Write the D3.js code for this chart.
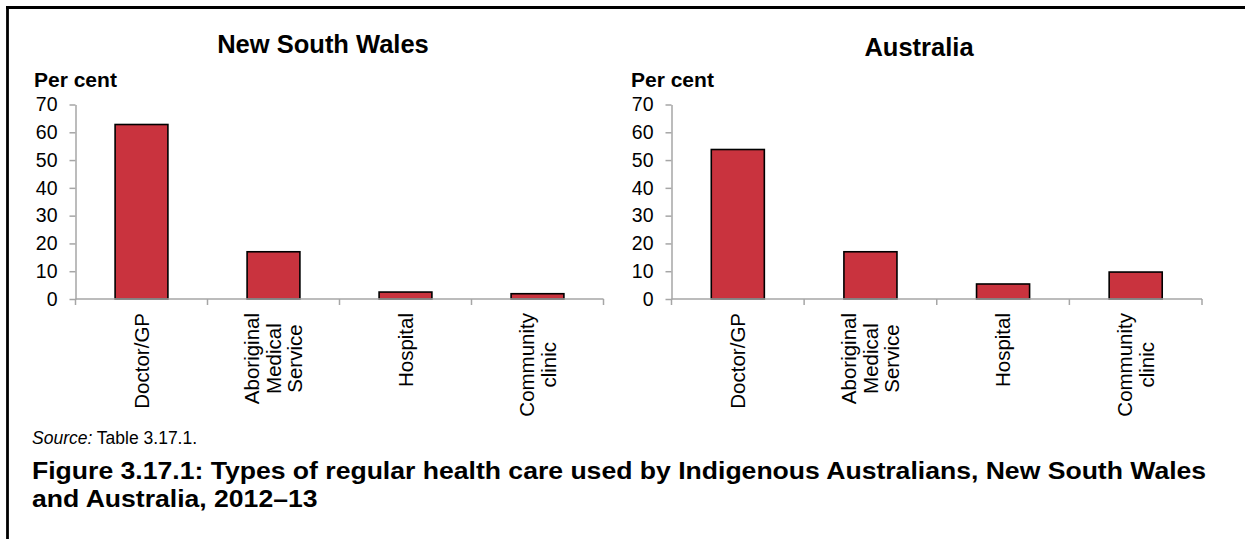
<!DOCTYPE html>
<html>
<head>
<meta charset="utf-8">
<script src="https://cdn.jsdelivr.net/npm/d3@7"></script>
<style>
  html, body { margin: 0; padding: 0; background: #fff; }
  svg { display: block; font-family: "Liberation Sans", Arial, Helvetica, sans-serif; }
</style>
</head>
<body>
<svg id="chart" width="1245" height="539"></svg>
<script>
// ---------- data ----------
const categories = ["Doctor/GP", "Aboriginal Medical Service", "Hospital", "Community clinic"];
const categoryLines = [["Doctor/GP"], ["Aboriginal", "Medical", "Service"], ["Hospital"], ["Community", "clinic"]];
const nswValues = [62.8, 17.0, 2.5, 1.9];
const ausValues = [53.8, 17.0, 5.4, 9.7];
const yTicks = [0, 10, 20, 30, 40, 50, 60, 70];
const panelTitles = ["New South Wales", "Australia"];
const yAxisTitle = "Per cent";
const sourceLabel = "Source:";
const sourceText = " Table 3.17.1.";
const captionLines = [
  "Figure 3.17.1: Types of regular health care used by Indigenous Australians, New South Wales",
  "and Australia, 2012\u201313"
];

// ---------- style ----------
const BAR_FILL = "#C9333E";
const AXIS_COL = "#A6A6A6";

const svg = d3.select("#chart");

// frame (top + left rules)
svg.append("line").attr("x1", 6).attr("y1", 7.5).attr("x2", 1245).attr("y2", 7.5)
  .attr("stroke", "#000").attr("stroke-width", 2.8);
svg.append("line").attr("x1", 7.5).attr("y1", 6).attr("x2", 7.5).attr("y2", 539)
  .attr("stroke", "#000").attr("stroke-width", 2.8);

function addText(g, x, y, str, size, weight, anchor) {
  return g.append("text")
    .attr("x", x).attr("y", y)
    .attr("font-size", size)
    .attr("font-weight", weight || "normal")
    .attr("text-anchor", anchor || "start")
    .attr("fill", "#000")
    .text(str);
}

const panels = [
  { title: panelTitles[0], values: nswValues, x0: 75.5, x1: 603.5, titleX: 323, titleY: 53, yTitleX: 34 },
  { title: panelTitles[1], values: ausValues, x0: 671.5, x1: 1202, titleX: 919, titleY: 56, yTitleX: 631 }
];

const yTop = 104.5, yBottom = 299;

panels.forEach(p => {
  const g = svg.append("g");
  const x = d3.scaleBand().domain(categories).range([p.x0, p.x1]).paddingInner(0.6).paddingOuter(0.3);
  const y = d3.scaleLinear().domain([0, 70]).range([yBottom, yTop]);

  addText(g, p.titleX, p.titleY, p.title, 25.5, "bold", "middle");
  addText(g, p.yTitleX, 87, yAxisTitle, 21, "bold", "start");

  // y axis
  const ya = g.append("g").attr("transform", `translate(${p.x0},0)`)
    .call(d3.axisLeft(y).tickValues(yTicks).tickSize(6).tickPadding(12).tickSizeOuter(0));
  ya.select(".domain").attr("stroke", AXIS_COL).attr("stroke-width", 1.5);
  ya.selectAll(".tick line").attr("stroke", AXIS_COL).attr("stroke-width", 1.5);
  ya.selectAll(".tick text").attr("font-size", 19.5).attr("font-family", null).attr("fill", "#000");

  // bars
  g.selectAll("rect.bar").data(categories).enter().append("rect")
    .attr("class", "bar")
    .attr("x", d => x(d))
    .attr("width", x.bandwidth())
    .attr("y", (d, i) => y(p.values[i]))
    .attr("height", (d, i) => y(0) - y(p.values[i]))
    .attr("fill", BAR_FILL)
    .attr("stroke", "#000")
    .attr("stroke-width", 1.6);

  // x axis line + boundary ticks
  const step = x.step();
  const bounds = categories.map(c => x(c) + x.bandwidth() / 2 - step / 2)
    .concat([x(categories[categories.length - 1]) + x.bandwidth() / 2 + step / 2]);
  g.append("line").attr("x1", p.x0).attr("x2", bounds[bounds.length - 1]).attr("y1", y(0)).attr("y2", y(0))
    .attr("stroke", AXIS_COL).attr("stroke-width", 1.5);
  g.selectAll("line.xt").data(bounds).enter().append("line")
    .attr("class", "xt")
    .attr("x1", d => d).attr("x2", d => d)
    .attr("y1", y(0)).attr("y2", y(0) + 6)
    .attr("stroke", AXIS_COL).attr("stroke-width", 1.5);

  // category labels (rotated, lines centred on each other, block starting below axis)
  const FS = 20.5, LH = 21.5;
  categories.forEach((c, i) => {
    const lines = categoryLines[i];
    const cx = x(c) + x.bandwidth() / 2;
    const lg = g.append("g");
    const texts = lines.map(ln => lg.append("text")
      .attr("font-size", FS).attr("text-anchor", "middle").attr("fill", "#000").text(ln));
    const maxLen = d3.max(texts, t => t.node().getComputedTextLength());
    texts.forEach((t, j) => {
      const off = (j - (lines.length - 1) / 2) * LH;
      const bx = cx + off + FS * 0.36;
      t.attr("transform", `translate(${bx},${313 + maxLen / 2}) rotate(-90)`);
    });
  });
});

// source
const src = svg.append("text")
  .attr("x", 32).attr("y", 444)
  .attr("font-size", 17.5).attr("fill", "#000");
src.append("tspan").attr("font-style", "italic").text(sourceLabel);
src.append("tspan").text(sourceText);

// caption (slightly widened type, as in the reference)
captionLines.forEach((ln, i) => {
  svg.append("text")
    .attr("transform", `translate(32,${479 + i * 27.5}) scale(1.085,1)`)
    .attr("font-size", 24.5)
    .attr("font-weight", "bold")
    .attr("fill", "#000")
    .text(ln);
});
</script>
</body>
</html>
